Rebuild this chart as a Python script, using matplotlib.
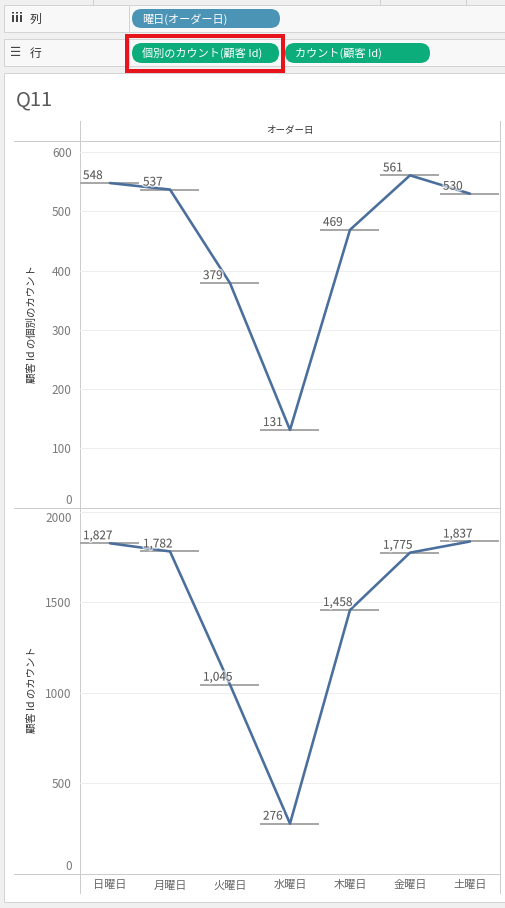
import matplotlib
matplotlib.use("Agg")
import matplotlib.pyplot as plt
from matplotlib.patches import Rectangle, FancyBboxPatch
import matplotlib.patheffects as pe

plt.rcParams['font.family'] = ['Noto Sans CJK JP', 'DejaVu Sans']

# ---- data ----
days = ['日曜日', '月曜日', '火曜日', '水曜日', '木曜日', '金曜日', '土曜日']
distinct_counts = [548, 537, 379, 131, 469, 561, 530]
counts = [1827, 1782, 1045, 276, 1458, 1775, 1837]
top_ticks = [0, 100, 200, 300, 400, 500, 600]
bottom_ticks = [0, 500, 1000, 1500, 2000]
title = 'Q11'
header = 'オーダー日'
col_pill = '曜日(オーダー日)'
row_pills = ['個別のカウント(顧客 Id)', 'カウント(顧客 Id)']
top_ylabel = '顧客 Id の個別のカウント'
bottom_ylabel = '顧客 Id のカウント'

W, H = 506, 908
fig = plt.figure(figsize=(W / 100, H / 100), dpi=100, facecolor='#f0f0f0')
bg = fig.add_axes([0, 0, 1, 1])
bg.set_xlim(0, W)
bg.set_ylim(H, 0)
bg.axis('off')

PX = 0.72  # 1px in points
border = '#d4d4d4'

# top strip dividers
for x in [93, 380, 466]:
    bg.plot([x, x], [0, 4], color='#d0d0d0', lw=PX)

# shelves
for y0 in [5, 39]:
    bg.add_patch(Rectangle((4, y0), 503, 27, facecolor='#f8f8f8', edgecolor=border, lw=PX))
bg.plot([129, 129], [5, 32], color=border, lw=PX)
bg.plot([129, 129], [39, 66], color=border, lw=PX)

bg.text(11, 19, 'iii', fontsize=8.5, color='#444', va='center', ha='left', fontweight='bold',
        family=['DejaVu Sans'])
bg.text(30, 19.5, '列', fontsize=8.5, color='#333', va='center', ha='left')
bg.text(10, 53, '☰', fontsize=9, color='#444', va='center', ha='left', family=['DejaVu Sans'])
bg.text(30, 53.5, '行', fontsize=8.5, color='#333', va='center', ha='left')

def pill(x0, x1, y0, y1, color, text):
    bg.add_patch(FancyBboxPatch((x0, y0), x1 - x0, y1 - y0,
                                boxstyle=f"round,pad=0,rounding_size={(y1 - y0) / 2}",
                                facecolor=color, edgecolor='none'))
    bg.text(x0 + 10, (y0 + y1) / 2 + 0.5, text, fontsize=8, color='white',
            va='center', ha='left')

pill(132, 280, 9, 28, '#4c94b6', col_pill)
pill(132, 279, 43, 63, '#0cad7b', row_pills[0])
pill(285, 430, 43, 63, '#0cad7b', row_pills[1])

# red highlight box
bg.add_patch(Rectangle((127, 36), 156, 35, facecolor='none', edgecolor='#e8141c', lw=4 * PX))

# main panel
bg.add_patch(Rectangle((4, 73), 503, 829, facecolor='white', edgecolor=border, lw=PX))

bg.text(16, 100, title, fontsize=14.5, color='#5a5a5a', va='center', ha='left')
bg.text(290, 130, header, fontsize=6.8, color='#333333', va='center', ha='center')

# pane frame lines
lc = '#cccccc'
bg.plot([80, 80], [121, 893], color=lc, lw=PX)
bg.plot([500, 500], [121, 893], color=lc, lw=PX)
for y in [141, 507.5, 873.5]:
    bg.plot([14, 500], [y, y], color=lc, lw=PX)

# axis titles
bg.text(32, 324, top_ylabel, rotation=90, fontsize=7.5, color='#333333', va='center', ha='center')
bg.text(32, 690, bottom_ylabel, rotation=90, fontsize=7.5, color='#333333', va='center', ha='center')

line_color = '#4b6f9c'
ref_color = '#a8a8a8'


def panel(rect_top, rect_bottom, ymax, values, ticks, show_x, top_label_down):
    ax = fig.add_axes([80 / W, (H - rect_bottom) / H, 420 / W, (rect_bottom - rect_top) / H])
    ax.set_facecolor('none')
    for s in ax.spines.values():
        s.set_visible(False)
    x = list(range(len(values)))
    ax.set_xlim(-0.5, len(values) - 0.5)
    ax.set_ylim(0, ymax)
    ax.set_yticks(ticks)
    ax.set_yticklabels([str(t) for t in ticks])
    ax.tick_params(axis='y', length=0, pad=6, labelsize=8.5, labelcolor='#7a7a7a')
    ax.yaxis.grid(True, color='#eeeeee', lw=PX)
    ax.set_axisbelow(True)
    labels = ax.get_yticklabels()
    labels[0].set_va('bottom')
    if top_label_down:
        labels[-1].set_va('top')
    if show_x:
        ax.set_xticks(x)
        ax.set_xticklabels(days)
        ax.tick_params(axis='x', length=0, pad=5, labelsize=8, labelcolor='#666666')
    else:
        ax.set_xticks([])
    ax.hlines(values, [i - 0.5 for i in x], [i + 0.48 for i in x], color=ref_color,
              lw=2 * PX, zorder=2)
    ax.plot(x, values, color=line_color, lw=2.6 * PX, zorder=3, solid_capstyle='round',
            solid_joinstyle='round')
    for i, v in zip(x, values):
        ax.annotate(f"{v:,}", xy=(i - 0.5, v), xytext=(3, 4), textcoords='offset pixels',
                    fontsize=8.5, color='#5f5f5f', ha='left', va='baseline', zorder=4,
                    path_effects=[pe.withStroke(linewidth=2.5, foreground=(1, 1, 1, 0.6))])
    return ax


panel(141, 507.5, 619, distinct_counts, top_ticks, False, False)
panel(507.5, 873.5, 2025, counts, bottom_ticks, True, True)

fig.savefig('out.png', dpi=100, facecolor=fig.get_facecolor())
